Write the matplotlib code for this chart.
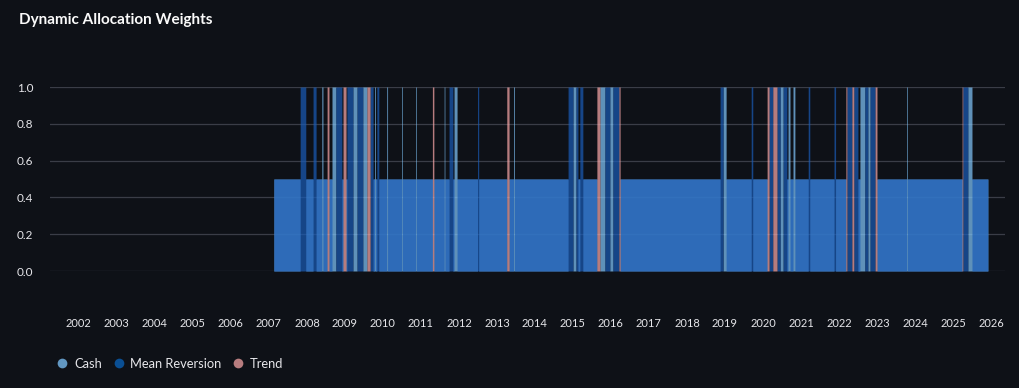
import numpy as np
import matplotlib.pyplot as plt
from matplotlib.lines import Line2D

plt.rcParams['font.family'] = ['Lato', 'DejaVu Sans']

# data, in decimal years
years = list(range(2002, 2027))
active_start, active_end = 2007.13, 2025.92
base_cash = 0.5
base_mr = 0.5

mr_spikes = [(2007.82, 2007.97), (2008.16, 2008.24), (2008.76, 2008.92), (2009.05, 2009.21),
             (2009.32, 2009.47), (2009.66, 2009.74), (2009.84, 2009.89), (2011.74, 2011.84),
             (2012.49, 2012.52), (2014.87, 2015.00), (2015.08, 2015.13), (2015.18, 2015.26),
             (2015.84, 2015.97), (2016.05, 2016.21), (2018.87, 2018.95), (2019.69, 2019.73),
             (2020.16, 2020.26), (2020.37, 2020.45), (2020.53, 2020.63), (2021.19, 2021.23),
             (2021.87, 2021.91), (2022.21, 2022.34), (2022.39, 2022.50), (2022.68, 2022.76),
             (2022.82, 2022.95), (2025.26, 2025.39)]
trend_spikes = [(2008.53, 2008.58), (2008.95, 2009.03), (2009.58, 2009.66), (2011.30, 2011.34),
                (2013.26, 2013.32), (2015.63, 2015.71), (2016.21, 2016.24), (2020.11, 2020.16),
                (2020.26, 2020.37), (2022.18, 2022.21), (2022.34, 2022.39), (2022.95, 2023.00),
                (2025.24, 2025.26)]
cash_spikes = [(2008.39, 2008.42), (2008.66, 2008.76), (2009.21, 2009.32), (2009.47, 2009.58),
               (2009.78, 2009.80), (2010.10, 2010.12), (2010.49, 2010.51), (2010.86, 2010.88),
               (2011.61, 2011.63), (2011.87, 2011.95), (2013.44, 2013.46), (2015.00, 2015.08),
               (2015.71, 2015.84), (2015.97, 2016.05), (2018.95, 2019.03), (2020.45, 2020.53),
               (2020.66, 2020.71), (2020.79, 2020.84), (2022.55, 2022.68), (2022.76, 2022.82),
               (2023.78, 2023.80), (2025.39, 2025.50)]

t = np.arange(active_start, active_end, 1 / 365.25)
cash = np.full(t.shape, base_cash)
mr = np.full(t.shape, base_mr)
trend = np.zeros(t.shape)
for a, b in mr_spikes:
    m = (t >= a) & (t < b)
    mr[m], cash[m], trend[m] = 1, 0, 0
for a, b in trend_spikes:
    m = (t >= a) & (t < b)
    trend[m], cash[m], mr[m] = 1, 0, 0
for a, b in cash_spikes:
    m = (t >= a) & (t < b)
    cash[m], mr[m], trend[m] = 1, 0, 0

bg = '#0e1117'
fills = {'Cash': '#83c9ff', 'Mean Reversion': '#1a5cb8', 'Trend': '#ffabab'}
legend_cols = {'Cash': '#6197c2', 'Mean Reversion': '#0a4f94', 'Trend': '#b77d7f'}

fig = plt.figure(figsize=(10.19, 3.88), dpi=100, facecolor=bg)
ax = fig.add_axes([50 / 1019, 1 - 271 / 388, 955 / 1019, 184 / 388], facecolor=bg)

ax.fill_between(t, 0, cash, step='post', color=fills['Cash'], alpha=0.7, lw=0)
ax.fill_between(t, 0, mr, step='post', color=fills['Mean Reversion'], alpha=0.7, lw=0)
ax.fill_between(t, 0, trend, step='post', color=fills['Trend'], alpha=0.7, lw=0)

ax.set_xlim(2001.24, 2026.37)
ax.set_ylim(0, 1.0)
ax.set_yticks([0, 0.2, 0.4, 0.6, 0.8, 1.0])
ax.set_yticklabels(['0.0', '0.2', '0.4', '0.6', '0.8', '1.0'])
ax.set_xticks(years)
ax.set_xticklabels([str(y) for y in years])
ax.grid(axis='y', color='#3a3d47', lw=0.9)
ax.set_axisbelow(True)
for s in ax.spines.values():
    s.set_visible(False)
ax.tick_params(axis='y', length=0, pad=12, labelsize=8.5, labelcolor='#e6e6ea')
ax.tick_params(axis='x', length=0, pad=34, labelsize=8, labelcolor='#e6e6ea')

fig.text(19 / 1019, 1 - 20 / 388, 'Dynamic Allocation Weights', color='#fafafa',
         fontsize=11, fontweight='bold', va='center', ha='left')

handles = [Line2D([], [], ls='', marker='o', markersize=7, markeredgewidth=0,
                  color=legend_cols[k]) for k in legend_cols]
fig.legend(handles, list(legend_cols), loc='center left', bbox_to_anchor=(43 / 1019, 1 - 364 / 388),
           ncol=3, frameon=False, labelcolor='#e6e6ea', fontsize=9.3, handletextpad=0.3,
           columnspacing=0.7, handlelength=1.2)

fig.savefig('out.png', dpi=100, facecolor=bg)
